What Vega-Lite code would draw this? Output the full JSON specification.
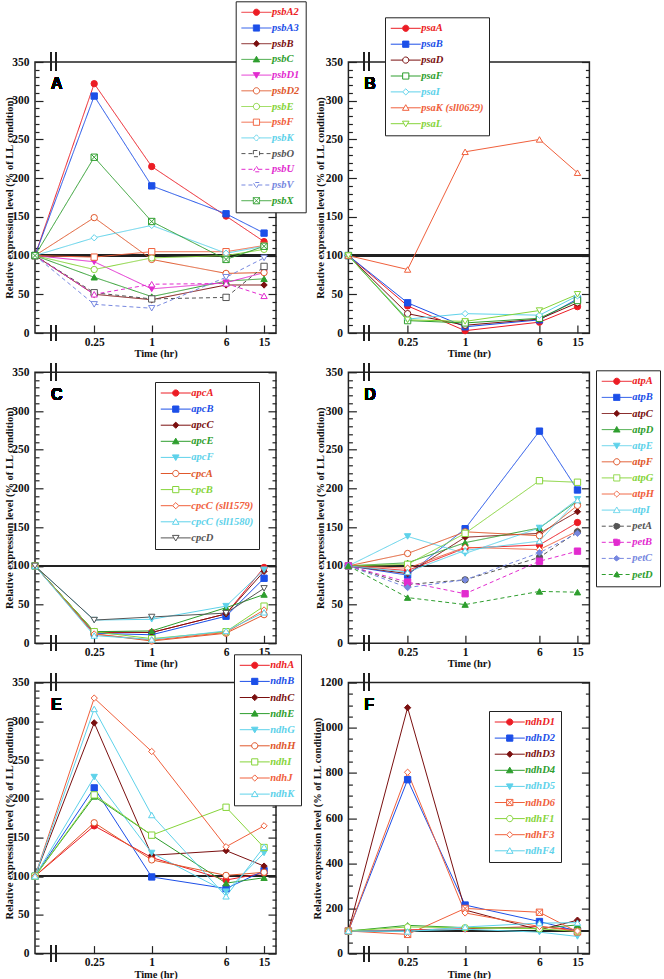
{
"$schema": "https://vega.github.io/schema/vega-lite/v6.json",
"padding": {"left": 3, "top": 0, "right": 0, "bottom": 0},
"params": [
 {"name": "LP", "value": [
  "M-3,0H-0.62M0.62,0H3M-0.62,0A0.62,0.62,0,1,1,0.62,0A0.62,0.62,0,1,1,-0.62,0Z",
  "M-3,0H-0.62M0.62,0H3M-0.62,-0.62H0.62V0.62H-0.62Z",
  "M-3,0H-0.62M0.62,0H3M-0.62,0L0,-0.62L0.62,0L0,0.62Z",
  "M-3,0H-0.37M0.37,0H3M0,-0.62L0.66,0.5H-0.66Z",
  "M-3,0H-0.37M0.37,0H3M0,0.62L0.66,-0.5H-0.66Z",
  "M-3,0H-0.62M0.62,0H3M-0.62,-0.62H0.62V0.62H-0.62ZM-0.62,-0.62L0.62,0.62M0.62,-0.62L-0.62,0.62"]},
 {"name": "Ag", "value": ["psbA2","psbA3","psbB","psbC","psbD1","psbD2","psbE","psbF","psbK","psbO","psbU","psbV","psbX"]},
 {"name": "Ac", "value": ["#ec1c24","#1c4fe8","#7a0f0f","#2e9e2e","#e22bcf","#e0582c","#86d43a","#f0603c","#5ed2ea","#555555","#e22bcf","#7788e0","#2e9e2e"]},
 {"name": "Am", "value": [0,1,2,3,4,0,0,1,2,1,3,4,5]},
 {"name": "Ao", "value": [0,0,0,0,0,1,1,1,1,1,1,1,1]},
 {"name": "Bg", "value": ["psaA","psaB","psaD","psaF","psaI","psaK (sll0629)","psaL"]},
 {"name": "Bc", "value": ["#ec1c24","#1c4fe8","#7a0f0f","#2e9e2e","#5ed2ea","#f0603c","#86d43a"]},
 {"name": "Bm", "value": [0,1,0,1,2,3,4]},
 {"name": "Bo", "value": [0,0,1,1,1,1,1]},
 {"name": "Cg", "value": ["apcA","apcB","apcC","apcE","apcF","cpcA","cpcB","cpcC (sll1579)","cpcC (sll1580)","cpcD"]},
 {"name": "Cc", "value": ["#ec1c24","#1c4fe8","#7a0f0f","#2e9e2e","#5ed2ea","#e0582c","#86d43a","#f0603c","#5ed2ea","#555555"]},
 {"name": "Cm", "value": [0,1,2,3,4,0,1,2,3,4]},
 {"name": "Co", "value": [0,0,0,0,0,1,1,1,1,1]},
 {"name": "Dg", "value": ["atpA","atpB","atpC","atpD","atpE","atpF","atpG","atpH","atpI","petA","petB","petC","petD"]},
 {"name": "Dc", "value": ["#ec1c24","#1c4fe8","#7a0f0f","#2e9e2e","#5ed2ea","#e0582c","#86d43a","#f0603c","#5ed2ea","#555555","#e22bcf","#7788e0","#2e9e2e"]},
 {"name": "Dm", "value": [0,1,2,3,4,0,1,2,3,0,1,2,3]},
 {"name": "Do", "value": [0,0,0,0,0,1,1,1,1,0,0,0,0]},
 {"name": "Eg", "value": ["ndhA","ndhB","ndhC","ndhE","ndhG","ndhH","ndhI","ndhJ","ndhK"]},
 {"name": "Ec", "value": ["#ec1c24","#1c4fe8","#7a0f0f","#2e9e2e","#5ed2ea","#e0582c","#86d43a","#f0603c","#5ed2ea"]},
 {"name": "Em", "value": [0,1,2,3,4,0,1,2,3]},
 {"name": "Eo", "value": [0,0,0,0,0,1,1,1,1]},
 {"name": "Fg", "value": ["ndhD1","ndhD2","ndhD3","ndhD4","ndhD5","ndhD6","ndhF1","ndhF3","ndhF4"]},
 {"name": "Fc", "value": ["#ec1c24","#1c4fe8","#7a0f0f","#2e9e2e","#5ed2ea","#f0603c","#86d43a","#f0603c","#5ed2ea"]},
 {"name": "Fm", "value": [0,1,2,3,4,5,0,2,3]},
 {"name": "Fo", "value": [0,0,0,0,0,1,1,1,1]}
],
"config": {
 "view": {"stroke": "#222", "strokeWidth": 1.5},
 "axis": {"domain": false, "grid": false, "labelFont": "Liberation Serif", "labelFontWeight": "bold", "labelFontSize": 11.5, "labelColor": "#111", "titleFont": "Liberation Serif", "titleFontWeight": "bold", "titleFontSize": 10.5, "titleColor": "#111", "tickColor": "#222", "tickWidth": 1.2},
 "legend": {"padding": 5.5, "strokeColor": "#222", "fillColor": "white", "labelFont": "Liberation Serif", "labelFontSize": 10.5, "labelFontStyle": "italic", "labelFontWeight": "bold", "symbolSize": 100, "symbolStrokeWidth": 1, "symbolOffset": 9.75, "labelOffset": 10, "labelLimit": 300}
},
"bounds": "flush",
"columns": 2,
"spacing": {"row": 39.3, "column": 72.4},
"resolve": {"scale": {"stroke": "independent", "fill": "independent", "shape": "independent", "strokeDash": "independent", "x": "independent", "y": "independent"}},
"concat": [
{
 "width": 241, "height": 271,
 "data": {"values": [
  {"g":"psbA2","t":0.06,"v":100},{"g":"psbA2","t":0.25,"v":322},{"g":"psbA2","t":1,"v":215},{"g":"psbA2","t":6,"v":151},{"g":"psbA2","t":15,"v":118},
  {"g":"psbA3","t":0.06,"v":100},{"g":"psbA3","t":0.25,"v":306},{"g":"psbA3","t":1,"v":190},{"g":"psbA3","t":6,"v":154},{"g":"psbA3","t":15,"v":129},
  {"g":"psbB","t":0.06,"v":100},{"g":"psbB","t":0.25,"v":50},{"g":"psbB","t":1,"v":43},{"g":"psbB","t":6,"v":62},{"g":"psbB","t":15,"v":62},
  {"g":"psbC","t":0.06,"v":100},{"g":"psbC","t":0.25,"v":72},{"g":"psbC","t":1,"v":47},{"g":"psbC","t":6,"v":67},{"g":"psbC","t":15,"v":70},
  {"g":"psbD1","t":0.06,"v":100},{"g":"psbD1","t":0.25,"v":92},{"g":"psbD1","t":1,"v":57},{"g":"psbD1","t":6,"v":65},{"g":"psbD1","t":15,"v":78},
  {"g":"psbD2","t":0.06,"v":100},{"g":"psbD2","t":0.25,"v":149},{"g":"psbD2","t":1,"v":95},{"g":"psbD2","t":6,"v":77},{"g":"psbD2","t":15,"v":78},
  {"g":"psbE","t":0.06,"v":100},{"g":"psbE","t":0.25,"v":82},{"g":"psbE","t":1,"v":97},{"g":"psbE","t":6,"v":100},{"g":"psbE","t":15,"v":108},
  {"g":"psbF","t":0.06,"v":100},{"g":"psbF","t":0.25,"v":98},{"g":"psbF","t":1,"v":105},{"g":"psbF","t":6,"v":105},{"g":"psbF","t":15,"v":113},
  {"g":"psbK","t":0.06,"v":100},{"g":"psbK","t":0.25,"v":123},{"g":"psbK","t":1,"v":139},{"g":"psbK","t":6,"v":103},{"g":"psbK","t":15,"v":112},
  {"g":"psbO","t":0.06,"v":100},{"g":"psbO","t":0.25,"v":52},{"g":"psbO","t":1,"v":44},{"g":"psbO","t":6,"v":46},{"g":"psbO","t":15,"v":86},
  {"g":"psbU","t":0.06,"v":100},{"g":"psbU","t":0.25,"v":50},{"g":"psbU","t":1,"v":63},{"g":"psbU","t":6,"v":64},{"g":"psbU","t":15,"v":48},
  {"g":"psbV","t":0.06,"v":100},{"g":"psbV","t":0.25,"v":37},{"g":"psbV","t":1,"v":32},{"g":"psbV","t":6,"v":72},{"g":"psbV","t":15,"v":97},
  {"g":"psbX","t":0.06,"v":100},{"g":"psbX","t":0.25,"v":227},{"g":"psbX","t":1,"v":144},{"g":"psbX","t":6,"v":95},{"g":"psbX","t":15,"v":112}
 ]},
 "layer": [
  {"mark": {"type": "rule", "stroke": "#222", "strokeWidth": 1.5}, "encoding": {"y": {"datum": 100, "type": "quantitative", "scale": {"domain": [0,350], "nice": false, "zero": false}, "axis": null}}},
  {"mark": {"type": "line", "strokeWidth": 1},
   "encoding": {
    "x": {"field": "t", "type": "quantitative", "scale": {"type": "log", "domain": [0.06, 20], "nice": false}, "axis": {"values": [0.25,1,6,15], "format": "~g", "tickSize": -8, "labelPadding": 11, "title": "Time (hr)", "titlePadding": 1}},
    "y": {"field": "v", "type": "quantitative", "scale": {"domain": [0,350], "nice": false, "zero": false}, "axis": {"values": [0,10,20,30,40,50,60,70,80,90,100,110,120,130,140,150,160,170,180,190,200,210,220,230,240,250,260,270,280,290,300,310,320,330,340,350], "labelExpr": "datum.value % 50 == 0 ? datum.label : ''", "tickSize": {"condition": {"test": "datum.value % 50 == 0", "value": -8}, "value": -4}, "labelPadding": 14, "title": "Relative expression level (% of LL condition)", "titleX": -26, "titleY": 135.5, "titleAlign": "center", "titleBaseline": "middle", "titleAngle": -90}},
    "stroke": {"field": "g", "type": "nominal", "scale": {"domain": ["psbA2","psbA3","psbB","psbC","psbD1","psbD2","psbE","psbF","psbK","psbO","psbU","psbV","psbX"], "range": ["#ec1c24","#1c4fe8","#7a0f0f","#2e9e2e","#e22bcf","#e0582c","#86d43a","#f0603c","#5ed2ea","#555555","#e22bcf","#7788e0","#2e9e2e"]},
     "legend": {"title": null, "orient": "none", "legendX": 200.7, "legendY": -60.7, "rowPadding": 4.7,
      "symbolType": {"expr": "LP[Am[indexof(Ag, datum.value)]]"},
      "symbolFillColor": {"expr": "Ao[indexof(Ag, datum.value)] ? 'white' : Ac[indexof(Ag, datum.value)]"},
      "labelColor": {"expr": "Ac[indexof(Ag, datum.value)]"}}},
    "strokeDash": {"field": "g", "type": "nominal", "scale": {"domain": ["psbA2","psbA3","psbB","psbC","psbD1","psbD2","psbE","psbF","psbK","psbO","psbU","psbV","psbX"], "range": [[1,0],[1,0],[1,0],[1,0],[1,0],[1,0],[1,0],[1,0],[1,0],[4,3],[4,3],[4,3],[1,0]]}, "legend": null}
   }},
  {"mark": {"type": "point", "size": 40, "strokeWidth": 1, "opacity": 1},
   "encoding": {
    "x": {"field": "t", "type": "quantitative", "scale": {"type": "log", "domain": [0.06, 20], "nice": false}},
    "y": {"field": "v", "type": "quantitative", "scale": {"domain": [0,350], "nice": false, "zero": false}, "axis": {"orient": "right", "values": [0,10,20,30,40,50,60,70,80,90,100,110,120,130,140,150,160,170,180,190,200,210,220,230,240,250,260,270,280,290,300,310,320,330,340,350], "labels": false, "tickSize": {"condition": {"test": "datum.value % 50 == 0", "value": -8}, "value": -4}, "title": null}},
    "stroke": {"field": "g", "type": "nominal", "scale": {"domain": ["psbA2","psbA3","psbB","psbC","psbD1","psbD2","psbE","psbF","psbK","psbO","psbU","psbV","psbX"], "range": ["#ec1c24","#1c4fe8","#7a0f0f","#2e9e2e","#e22bcf","#e0582c","#86d43a","#f0603c","#5ed2ea","#555555","#e22bcf","#7788e0","#2e9e2e"]}, "legend": null},
    "fill": {"field": "g", "type": "nominal", "scale": {"domain": ["psbX","psbV","psbU","psbO","psbK","psbF","psbE","psbD2","psbD1","psbC","psbB","psbA3","psbA2"], "range": ["white","white","white","white","white","white","white","white","#e22bcf","#2e9e2e","#7a0f0f","#1c4fe8","#ec1c24"]}, "legend": null},
    "shape": {"field": "g", "type": "nominal", "scale": {"domain": ["psbX","psbV","psbU","psbO","psbK","psbF","psbE","psbD2","psbD1","psbC","psbB","psbA3","psbA2"], "range": ["M-1,-1H1V1H-1ZM-1,-1L1,1M1,-1L-1,1","triangle-down","triangle-up","square","diamond","square","circle","circle","triangle-down","triangle-up","diamond","square","circle"]}, "legend": null}
   }},
  {"mark": {"type": "text", "text": "A", "font": "Liberation Sans", "fontWeight": "bold", "fontSize": 16, "align": "left", "baseline": "middle"}, "encoding": {"x": {"datum": 0.088, "type": "quantitative", "scale": {"type": "log", "domain": [0.06, 20], "nice": false}}, "y": {"datum": 321, "type": "quantitative", "scale": {"domain": [0,350], "nice": false, "zero": false}, "axis": null}}},
  {"mark": {"type": "rule", "stroke": "#222", "strokeWidth": 1.2}, "encoding": {"x": {"datum": 0.0876, "type": "quantitative", "scale": {"type": "log", "domain": [0.06, 20], "nice": false}}, "y": {"datum": -10, "type": "quantitative", "scale": {"domain": [0,350], "nice": false, "zero": false}, "axis": null}, "y2": {"datum": 10}}},
  {"mark": {"type": "rule", "stroke": "#222", "strokeWidth": 1.2}, "encoding": {"x": {"datum": 0.0995, "type": "quantitative", "scale": {"type": "log", "domain": [0.06, 20], "nice": false}}, "y": {"datum": -10, "type": "quantitative", "scale": {"domain": [0,350], "nice": false, "zero": false}, "axis": null}, "y2": {"datum": 10}}},
  {"mark": {"type": "rule", "stroke": "#222", "strokeWidth": 1.2}, "encoding": {"x": {"datum": 0.0876, "type": "quantitative", "scale": {"type": "log", "domain": [0.06, 20], "nice": false}}, "y": {"datum": 339, "type": "quantitative", "scale": {"domain": [0,350], "nice": false, "zero": false}, "axis": null}, "y2": {"datum": 362}}},
  {"mark": {"type": "rule", "stroke": "#222", "strokeWidth": 1.2}, "encoding": {"x": {"datum": 0.0995, "type": "quantitative", "scale": {"type": "log", "domain": [0.06, 20], "nice": false}}, "y": {"datum": 339, "type": "quantitative", "scale": {"domain": [0,350], "nice": false, "zero": false}, "axis": null}, "y2": {"datum": 362}}}
 ],
 "resolve": {"axis": {"y": "independent"}}
},
{
 "width": 241, "height": 271,
 "data": {"values": [
  {"g":"psaA","t":0.06,"v":100},{"g":"psaA","t":0.25,"v":35},{"g":"psaA","t":1,"v":3},{"g":"psaA","t":6,"v":14},{"g":"psaA","t":15,"v":34},
  {"g":"psaB","t":0.06,"v":100},{"g":"psaB","t":0.25,"v":39},{"g":"psaB","t":1,"v":8},{"g":"psaB","t":6,"v":17},{"g":"psaB","t":15,"v":44},
  {"g":"psaD","t":0.06,"v":100},{"g":"psaD","t":0.25,"v":25},{"g":"psaD","t":1,"v":10},{"g":"psaD","t":6,"v":18},{"g":"psaD","t":15,"v":39},
  {"g":"psaF","t":0.06,"v":100},{"g":"psaF","t":0.25,"v":16},{"g":"psaF","t":1,"v":13},{"g":"psaF","t":6,"v":19},{"g":"psaF","t":15,"v":42},
  {"g":"psaI","t":0.06,"v":100},{"g":"psaI","t":0.25,"v":18},{"g":"psaI","t":1,"v":25},{"g":"psaI","t":6,"v":23},{"g":"psaI","t":15,"v":48},
  {"g":"psaK (sll0629)","t":0.06,"v":100},{"g":"psaK (sll0629)","t":0.25,"v":82},{"g":"psaK (sll0629)","t":1,"v":234},{"g":"psaK (sll0629)","t":6,"v":250},{"g":"psaK (sll0629)","t":15,"v":207},
  {"g":"psaL","t":0.06,"v":100},{"g":"psaL","t":0.25,"v":17},{"g":"psaL","t":1,"v":15},{"g":"psaL","t":6,"v":29},{"g":"psaL","t":15,"v":50}
 ]},
 "layer": [
  {"mark": {"type": "rule", "stroke": "#222", "strokeWidth": 1.5}, "encoding": {"y": {"datum": 100, "type": "quantitative", "scale": {"domain": [0,350], "nice": false, "zero": false}, "axis": null}}},
  {"mark": {"type": "line", "strokeWidth": 1},
   "encoding": {
    "x": {"field": "t", "type": "quantitative", "scale": {"type": "log", "domain": [0.06, 20], "nice": false}, "axis": {"values": [0.25,1,6,15], "format": "~g", "tickSize": -8, "labelPadding": 11, "title": "Time (hr)", "titlePadding": 1}},
    "y": {"field": "v", "type": "quantitative", "scale": {"domain": [0,350], "nice": false, "zero": false}, "axis": {"values": [0,10,20,30,40,50,60,70,80,90,100,110,120,130,140,150,160,170,180,190,200,210,220,230,240,250,260,270,280,290,300,310,320,330,340,350], "labelExpr": "datum.value % 50 == 0 ? datum.label : ''", "tickSize": {"condition": {"test": "datum.value % 50 == 0", "value": -8}, "value": -4}, "labelPadding": 14, "title": "Relative expression level (% of LL condition)", "titleX": -28, "titleY": 135.5, "titleAlign": "center", "titleBaseline": "middle", "titleAngle": -90}},
    "stroke": {"field": "g", "type": "nominal", "scale": {"domain": ["psaA","psaB","psaD","psaF","psaI","psaK (sll0629)","psaL"], "range": ["#ec1c24","#1c4fe8","#7a0f0f","#2e9e2e","#5ed2ea","#f0603c","#86d43a"]},
     "legend": {"title": null, "orient": "none", "legendX": 36.6, "legendY": -44.7, "rowPadding": 4.9,
      "symbolType": {"expr": "LP[Bm[indexof(Bg, datum.value)]]"},
      "symbolFillColor": {"expr": "Bo[indexof(Bg, datum.value)] ? 'white' : Bc[indexof(Bg, datum.value)]"},
      "labelColor": {"expr": "Bc[indexof(Bg, datum.value)]"}}}
   }},
  {"mark": {"type": "point", "size": 40, "strokeWidth": 1, "opacity": 1},
   "encoding": {
    "x": {"field": "t", "type": "quantitative", "scale": {"type": "log", "domain": [0.06, 20], "nice": false}},
    "y": {"field": "v", "type": "quantitative", "scale": {"domain": [0,350], "nice": false, "zero": false}, "axis": {"orient": "right", "values": [0,10,20,30,40,50,60,70,80,90,100,110,120,130,140,150,160,170,180,190,200,210,220,230,240,250,260,270,280,290,300,310,320,330,340,350], "labels": false, "tickSize": {"condition": {"test": "datum.value % 50 == 0", "value": -8}, "value": -4}, "title": null}},
    "stroke": {"field": "g", "type": "nominal", "scale": {"domain": ["psaA","psaB","psaD","psaF","psaI","psaK (sll0629)","psaL"], "range": ["#ec1c24","#1c4fe8","#7a0f0f","#2e9e2e","#5ed2ea","#f0603c","#86d43a"]}, "legend": null},
    "fill": {"field": "g", "type": "nominal", "scale": {"domain": ["psaL","psaK (sll0629)","psaI","psaF","psaD","psaB","psaA"], "range": ["white","white","white","white","white","#1c4fe8","#ec1c24"]}, "legend": null},
    "shape": {"field": "g", "type": "nominal", "scale": {"domain": ["psaL","psaK (sll0629)","psaI","psaF","psaD","psaB","psaA"], "range": ["triangle-down","triangle-up","diamond","square","circle","square","circle"]}, "legend": null}
   }},
  {"mark": {"type": "text", "text": "B", "font": "Liberation Sans", "fontWeight": "bold", "fontSize": 16, "align": "left", "baseline": "middle"}, "encoding": {"x": {"datum": 0.088, "type": "quantitative", "scale": {"type": "log", "domain": [0.06, 20], "nice": false}}, "y": {"datum": 321, "type": "quantitative", "scale": {"domain": [0,350], "nice": false, "zero": false}, "axis": null}}},
  {"mark": {"type": "rule", "stroke": "#222", "strokeWidth": 1.2}, "encoding": {"x": {"datum": 0.0876, "type": "quantitative", "scale": {"type": "log", "domain": [0.06, 20], "nice": false}}, "y": {"datum": -10, "type": "quantitative", "scale": {"domain": [0,350], "nice": false, "zero": false}, "axis": null}, "y2": {"datum": 10}}},
  {"mark": {"type": "rule", "stroke": "#222", "strokeWidth": 1.2}, "encoding": {"x": {"datum": 0.0995, "type": "quantitative", "scale": {"type": "log", "domain": [0.06, 20], "nice": false}}, "y": {"datum": -10, "type": "quantitative", "scale": {"domain": [0,350], "nice": false, "zero": false}, "axis": null}, "y2": {"datum": 10}}},
  {"mark": {"type": "rule", "stroke": "#222", "strokeWidth": 1.2}, "encoding": {"x": {"datum": 0.0876, "type": "quantitative", "scale": {"type": "log", "domain": [0.06, 20], "nice": false}}, "y": {"datum": 339, "type": "quantitative", "scale": {"domain": [0,350], "nice": false, "zero": false}, "axis": null}, "y2": {"datum": 362}}},
  {"mark": {"type": "rule", "stroke": "#222", "strokeWidth": 1.2}, "encoding": {"x": {"datum": 0.0995, "type": "quantitative", "scale": {"type": "log", "domain": [0.06, 20], "nice": false}}, "y": {"datum": 339, "type": "quantitative", "scale": {"domain": [0,350], "nice": false, "zero": false}, "axis": null}, "y2": {"datum": 362}}}
 ],
 "resolve": {"axis": {"y": "independent"}}
},
{
 "width": 241, "height": 271,
 "data": {"values": [
  {"g":"apcA","t":0.06,"v":100},{"g":"apcA","t":0.25,"v":14},{"g":"apcA","t":1,"v":14},{"g":"apcA","t":6,"v":38},{"g":"apcA","t":15,"v":98},
  {"g":"apcB","t":0.06,"v":100},{"g":"apcB","t":0.25,"v":13},{"g":"apcB","t":1,"v":11},{"g":"apcB","t":6,"v":35},{"g":"apcB","t":15,"v":84},
  {"g":"apcC","t":0.06,"v":100},{"g":"apcC","t":0.25,"v":15},{"g":"apcC","t":1,"v":14},{"g":"apcC","t":6,"v":38},{"g":"apcC","t":15,"v":93},
  {"g":"apcE","t":0.06,"v":100},{"g":"apcE","t":0.25,"v":15},{"g":"apcE","t":1,"v":16},{"g":"apcE","t":6,"v":46},{"g":"apcE","t":15,"v":63},
  {"g":"apcF","t":0.06,"v":100},{"g":"apcF","t":0.25,"v":30},{"g":"apcF","t":1,"v":31},{"g":"apcF","t":6,"v":48},{"g":"apcF","t":15,"v":95},
  {"g":"cpcA","t":0.06,"v":100},{"g":"cpcA","t":0.25,"v":12},{"g":"cpcA","t":1,"v":3},{"g":"cpcA","t":6,"v":13},{"g":"cpcA","t":15,"v":37},
  {"g":"cpcB","t":0.06,"v":100},{"g":"cpcB","t":0.25,"v":15},{"g":"cpcB","t":1,"v":6},{"g":"cpcB","t":6,"v":15},{"g":"cpcB","t":15,"v":48},
  {"g":"cpcC (sll1579)","t":0.06,"v":100},{"g":"cpcC (sll1579)","t":0.25,"v":12},{"g":"cpcC (sll1579)","t":1,"v":4},{"g":"cpcC (sll1579)","t":6,"v":14},{"g":"cpcC (sll1579)","t":15,"v":43},
  {"g":"cpcC (sll1580)","t":0.06,"v":100},{"g":"cpcC (sll1580)","t":0.25,"v":10},{"g":"cpcC (sll1580)","t":1,"v":5},{"g":"cpcC (sll1580)","t":6,"v":16},{"g":"cpcC (sll1580)","t":15,"v":40},
  {"g":"cpcD","t":0.06,"v":100},{"g":"cpcD","t":0.25,"v":30},{"g":"cpcD","t":1,"v":34},{"g":"cpcD","t":6,"v":39},{"g":"cpcD","t":15,"v":71}
 ]},
 "layer": [
  {"mark": {"type": "rule", "stroke": "#222", "strokeWidth": 1.5}, "encoding": {"y": {"datum": 100, "type": "quantitative", "scale": {"domain": [0,350], "nice": false, "zero": false}, "axis": null}}},
  {"mark": {"type": "line", "strokeWidth": 1},
   "encoding": {
    "x": {"field": "t", "type": "quantitative", "scale": {"type": "log", "domain": [0.06, 20], "nice": false}, "axis": {"values": [0.25,1,6,15], "format": "~g", "tickSize": -8, "labelPadding": 11, "title": "Time (hr)", "titlePadding": 1}},
    "y": {"field": "v", "type": "quantitative", "scale": {"domain": [0,350], "nice": false, "zero": false}, "axis": {"values": [0,10,20,30,40,50,60,70,80,90,100,110,120,130,140,150,160,170,180,190,200,210,220,230,240,250,260,270,280,290,300,310,320,330,340,350], "labelExpr": "datum.value % 50 == 0 ? datum.label : ''", "tickSize": {"condition": {"test": "datum.value % 50 == 0", "value": -8}, "value": -4}, "labelPadding": 14, "title": "Relative expression level (% of LL condition)", "titleX": -26, "titleY": 135.5, "titleAlign": "center", "titleBaseline": "middle", "titleAngle": -90}},
    "stroke": {"field": "g", "type": "nominal", "scale": {"domain": ["apcA","apcB","apcC","apcE","apcF","cpcA","cpcB","cpcC (sll1579)","cpcC (sll1580)","cpcD"], "range": ["#ec1c24","#1c4fe8","#7a0f0f","#2e9e2e","#5ed2ea","#e0582c","#86d43a","#f0603c","#5ed2ea","#555555"]},
     "legend": {"title": null, "orient": "none", "legendX": 120, "legendY": 9.7, "rowPadding": 5.1,
      "symbolType": {"expr": "LP[Cm[indexof(Cg, datum.value)]]"},
      "symbolFillColor": {"expr": "Co[indexof(Cg, datum.value)] ? 'white' : Cc[indexof(Cg, datum.value)]"},
      "labelColor": {"expr": "Cc[indexof(Cg, datum.value)]"}}}
   }},
  {"mark": {"type": "point", "size": 40, "strokeWidth": 1, "opacity": 1},
   "encoding": {
    "x": {"field": "t", "type": "quantitative", "scale": {"type": "log", "domain": [0.06, 20], "nice": false}},
    "y": {"field": "v", "type": "quantitative", "scale": {"domain": [0,350], "nice": false, "zero": false}, "axis": {"orient": "right", "values": [0,10,20,30,40,50,60,70,80,90,100,110,120,130,140,150,160,170,180,190,200,210,220,230,240,250,260,270,280,290,300,310,320,330,340,350], "labels": false, "tickSize": {"condition": {"test": "datum.value % 50 == 0", "value": -8}, "value": -4}, "title": null}},
    "stroke": {"field": "g", "type": "nominal", "scale": {"domain": ["apcA","apcB","apcC","apcE","apcF","cpcA","cpcB","cpcC (sll1579)","cpcC (sll1580)","cpcD"], "range": ["#ec1c24","#1c4fe8","#7a0f0f","#2e9e2e","#5ed2ea","#e0582c","#86d43a","#f0603c","#5ed2ea","#555555"]}, "legend": null},
    "fill": {"field": "g", "type": "nominal", "scale": {"domain": ["cpcD","cpcC (sll1580)","cpcC (sll1579)","cpcB","cpcA","apcF","apcE","apcC","apcB","apcA"], "range": ["white","white","white","white","white","#5ed2ea","#2e9e2e","#7a0f0f","#1c4fe8","#ec1c24"]}, "legend": null},
    "shape": {"field": "g", "type": "nominal", "scale": {"domain": ["cpcD","cpcC (sll1580)","cpcC (sll1579)","cpcB","cpcA","apcF","apcE","apcC","apcB","apcA"], "range": ["triangle-down","triangle-up","diamond","square","circle","triangle-down","triangle-up","diamond","square","circle"]}, "legend": null}
   }},
  {"mark": {"type": "text", "text": "C", "font": "Liberation Sans", "fontWeight": "bold", "fontSize": 16, "align": "left", "baseline": "middle"}, "encoding": {"x": {"datum": 0.088, "type": "quantitative", "scale": {"type": "log", "domain": [0.06, 20], "nice": false}}, "y": {"datum": 321, "type": "quantitative", "scale": {"domain": [0,350], "nice": false, "zero": false}, "axis": null}}},
  {"mark": {"type": "rule", "stroke": "#222", "strokeWidth": 1.2}, "encoding": {"x": {"datum": 0.0876, "type": "quantitative", "scale": {"type": "log", "domain": [0.06, 20], "nice": false}}, "y": {"datum": -10, "type": "quantitative", "scale": {"domain": [0,350], "nice": false, "zero": false}, "axis": null}, "y2": {"datum": 10}}},
  {"mark": {"type": "rule", "stroke": "#222", "strokeWidth": 1.2}, "encoding": {"x": {"datum": 0.0995, "type": "quantitative", "scale": {"type": "log", "domain": [0.06, 20], "nice": false}}, "y": {"datum": -10, "type": "quantitative", "scale": {"domain": [0,350], "nice": false, "zero": false}, "axis": null}, "y2": {"datum": 10}}},
  {"mark": {"type": "rule", "stroke": "#222", "strokeWidth": 1.2}, "encoding": {"x": {"datum": 0.0876, "type": "quantitative", "scale": {"type": "log", "domain": [0.06, 20], "nice": false}}, "y": {"datum": 339, "type": "quantitative", "scale": {"domain": [0,350], "nice": false, "zero": false}, "axis": null}, "y2": {"datum": 362}}},
  {"mark": {"type": "rule", "stroke": "#222", "strokeWidth": 1.2}, "encoding": {"x": {"datum": 0.0995, "type": "quantitative", "scale": {"type": "log", "domain": [0.06, 20], "nice": false}}, "y": {"datum": 339, "type": "quantitative", "scale": {"domain": [0,350], "nice": false, "zero": false}, "axis": null}, "y2": {"datum": 362}}}
 ],
 "resolve": {"axis": {"y": "independent"}}
},
{
 "width": 241, "height": 271,
 "data": {"values": [
  {"g":"atpA","t":0.06,"v":100},{"g":"atpA","t":0.25,"v":94},{"g":"atpA","t":1,"v":123},{"g":"atpA","t":6,"v":127},{"g":"atpA","t":15,"v":156},
  {"g":"atpB","t":0.06,"v":100},{"g":"atpB","t":0.25,"v":88},{"g":"atpB","t":1,"v":148},{"g":"atpB","t":6,"v":274},{"g":"atpB","t":15,"v":198},
  {"g":"atpC","t":0.06,"v":100},{"g":"atpC","t":0.25,"v":90},{"g":"atpC","t":1,"v":137},{"g":"atpC","t":6,"v":142},{"g":"atpC","t":15,"v":170},
  {"g":"atpD","t":0.06,"v":100},{"g":"atpD","t":0.25,"v":104},{"g":"atpD","t":1,"v":130},{"g":"atpD","t":6,"v":149},{"g":"atpD","t":15,"v":184},
  {"g":"atpE","t":0.06,"v":100},{"g":"atpE","t":0.25,"v":138},{"g":"atpE","t":1,"v":116},{"g":"atpE","t":6,"v":149},{"g":"atpE","t":15,"v":186},
  {"g":"atpF","t":0.06,"v":100},{"g":"atpF","t":0.25,"v":116},{"g":"atpF","t":1,"v":144},{"g":"atpF","t":6,"v":139},{"g":"atpF","t":15,"v":178},
  {"g":"atpG","t":0.06,"v":100},{"g":"atpG","t":0.25,"v":102},{"g":"atpG","t":1,"v":142},{"g":"atpG","t":6,"v":210},{"g":"atpG","t":15,"v":208},
  {"g":"atpH","t":0.06,"v":100},{"g":"atpH","t":0.25,"v":97},{"g":"atpH","t":1,"v":124},{"g":"atpH","t":6,"v":121},{"g":"atpH","t":15,"v":145},
  {"g":"atpI","t":0.06,"v":100},{"g":"atpI","t":0.25,"v":92},{"g":"atpI","t":1,"v":120},{"g":"atpI","t":6,"v":132},{"g":"atpI","t":15,"v":185},
  {"g":"petA","t":0.06,"v":100},{"g":"petA","t":0.25,"v":76},{"g":"petA","t":1,"v":82},{"g":"petA","t":6,"v":111},{"g":"petA","t":15,"v":144},
  {"g":"petB","t":0.06,"v":100},{"g":"petB","t":0.25,"v":79},{"g":"petB","t":1,"v":64},{"g":"petB","t":6,"v":106},{"g":"petB","t":15,"v":119},
  {"g":"petC","t":0.06,"v":100},{"g":"petC","t":0.25,"v":72},{"g":"petC","t":1,"v":82},{"g":"petC","t":6,"v":117},{"g":"petC","t":15,"v":142},
  {"g":"petD","t":0.06,"v":100},{"g":"petD","t":0.25,"v":59},{"g":"petD","t":1,"v":50},{"g":"petD","t":6,"v":67},{"g":"petD","t":15,"v":66}
 ]},
 "layer": [
  {"mark": {"type": "rule", "stroke": "#222", "strokeWidth": 1.5}, "encoding": {"y": {"datum": 100, "type": "quantitative", "scale": {"domain": [0,350], "nice": false, "zero": false}, "axis": null}}},
  {"mark": {"type": "line", "strokeWidth": 1},
   "encoding": {
    "x": {"field": "t", "type": "quantitative", "scale": {"type": "log", "domain": [0.06, 20], "nice": false}, "axis": {"values": [0.25,1,6,15], "format": "~g", "tickSize": -8, "labelPadding": 11, "title": "Time (hr)", "titlePadding": 1}},
    "y": {"field": "v", "type": "quantitative", "scale": {"domain": [0,350], "nice": false, "zero": false}, "axis": {"values": [0,10,20,30,40,50,60,70,80,90,100,110,120,130,140,150,160,170,180,190,200,210,220,230,240,250,260,270,280,290,300,310,320,330,340,350], "labelExpr": "datum.value % 50 == 0 ? datum.label : ''", "tickSize": {"condition": {"test": "datum.value % 50 == 0", "value": -8}, "value": -4}, "labelPadding": 14, "title": "Relative expression level (% of LL condition)", "titleX": -28, "titleY": 135.5, "titleAlign": "center", "titleBaseline": "middle", "titleAngle": -90}},
    "stroke": {"field": "g", "type": "nominal", "scale": {"domain": ["atpA","atpB","atpC","atpD","atpE","atpF","atpG","atpH","atpI","petA","petB","petC","petD"], "range": ["#ec1c24","#1c4fe8","#7a0f0f","#2e9e2e","#5ed2ea","#e0582c","#86d43a","#f0603c","#5ed2ea","#555555","#e22bcf","#7788e0","#2e9e2e"]},
     "legend": {"title": null, "orient": "none", "legendX": 247.6, "legendY": -2, "rowPadding": 5.1,
      "symbolType": {"expr": "LP[Dm[indexof(Dg, datum.value)]]"},
      "symbolFillColor": {"expr": "Do[indexof(Dg, datum.value)] ? 'white' : Dc[indexof(Dg, datum.value)]"},
      "labelColor": {"expr": "Dc[indexof(Dg, datum.value)]"}}},
    "strokeDash": {"field": "g", "type": "nominal", "scale": {"domain": ["atpA","atpB","atpC","atpD","atpE","atpF","atpG","atpH","atpI","petA","petB","petC","petD"], "range": [[1,0],[1,0],[1,0],[1,0],[1,0],[1,0],[1,0],[1,0],[1,0],[4,3],[4,3],[4,3],[4,3]]}, "legend": null}
   }},
  {"mark": {"type": "point", "size": 40, "strokeWidth": 1, "opacity": 1},
   "encoding": {
    "x": {"field": "t", "type": "quantitative", "scale": {"type": "log", "domain": [0.06, 20], "nice": false}},
    "y": {"field": "v", "type": "quantitative", "scale": {"domain": [0,350], "nice": false, "zero": false}, "axis": {"orient": "right", "values": [0,10,20,30,40,50,60,70,80,90,100,110,120,130,140,150,160,170,180,190,200,210,220,230,240,250,260,270,280,290,300,310,320,330,340,350], "labels": false, "tickSize": {"condition": {"test": "datum.value % 50 == 0", "value": -8}, "value": -4}, "title": null}},
    "stroke": {"field": "g", "type": "nominal", "scale": {"domain": ["atpA","atpB","atpC","atpD","atpE","atpF","atpG","atpH","atpI","petA","petB","petC","petD"], "range": ["#ec1c24","#1c4fe8","#7a0f0f","#2e9e2e","#5ed2ea","#e0582c","#86d43a","#f0603c","#5ed2ea","#555555","#e22bcf","#7788e0","#2e9e2e"]}, "legend": null},
    "fill": {"field": "g", "type": "nominal", "scale": {"domain": ["petD","petC","petB","petA","atpI","atpH","atpG","atpF","atpE","atpD","atpC","atpB","atpA"], "range": ["#2e9e2e","#7788e0","#e22bcf","#555555","white","white","white","white","#5ed2ea","#2e9e2e","#7a0f0f","#1c4fe8","#ec1c24"]}, "legend": null},
    "shape": {"field": "g", "type": "nominal", "scale": {"domain": ["petD","petC","petB","petA","atpI","atpH","atpG","atpF","atpE","atpD","atpC","atpB","atpA"], "range": ["triangle-up","diamond","square","circle","triangle-up","diamond","square","circle","triangle-down","triangle-up","diamond","square","circle"]}, "legend": null}
   }},
  {"mark": {"type": "text", "text": "D", "font": "Liberation Sans", "fontWeight": "bold", "fontSize": 16, "align": "left", "baseline": "middle"}, "encoding": {"x": {"datum": 0.088, "type": "quantitative", "scale": {"type": "log", "domain": [0.06, 20], "nice": false}}, "y": {"datum": 321, "type": "quantitative", "scale": {"domain": [0,350], "nice": false, "zero": false}, "axis": null}}},
  {"mark": {"type": "rule", "stroke": "#222", "strokeWidth": 1.2}, "encoding": {"x": {"datum": 0.0876, "type": "quantitative", "scale": {"type": "log", "domain": [0.06, 20], "nice": false}}, "y": {"datum": -10, "type": "quantitative", "scale": {"domain": [0,350], "nice": false, "zero": false}, "axis": null}, "y2": {"datum": 10}}},
  {"mark": {"type": "rule", "stroke": "#222", "strokeWidth": 1.2}, "encoding": {"x": {"datum": 0.0995, "type": "quantitative", "scale": {"type": "log", "domain": [0.06, 20], "nice": false}}, "y": {"datum": -10, "type": "quantitative", "scale": {"domain": [0,350], "nice": false, "zero": false}, "axis": null}, "y2": {"datum": 10}}},
  {"mark": {"type": "rule", "stroke": "#222", "strokeWidth": 1.2}, "encoding": {"x": {"datum": 0.0876, "type": "quantitative", "scale": {"type": "log", "domain": [0.06, 20], "nice": false}}, "y": {"datum": 339, "type": "quantitative", "scale": {"domain": [0,350], "nice": false, "zero": false}, "axis": null}, "y2": {"datum": 362}}},
  {"mark": {"type": "rule", "stroke": "#222", "strokeWidth": 1.2}, "encoding": {"x": {"datum": 0.0995, "type": "quantitative", "scale": {"type": "log", "domain": [0.06, 20], "nice": false}}, "y": {"datum": 339, "type": "quantitative", "scale": {"domain": [0,350], "nice": false, "zero": false}, "axis": null}, "y2": {"datum": 362}}}
 ],
 "resolve": {"axis": {"y": "independent"}}
},
{
 "width": 241, "height": 271,
 "data": {"values": [
  {"g":"ndhA","t":0.06,"v":100},{"g":"ndhA","t":0.25,"v":165},{"g":"ndhA","t":1,"v":124},{"g":"ndhA","t":6,"v":95},{"g":"ndhA","t":15,"v":104},
  {"g":"ndhB","t":0.06,"v":100},{"g":"ndhB","t":0.25,"v":214},{"g":"ndhB","t":1,"v":99},{"g":"ndhB","t":6,"v":84},{"g":"ndhB","t":15,"v":107},
  {"g":"ndhC","t":0.06,"v":100},{"g":"ndhC","t":0.25,"v":298},{"g":"ndhC","t":1,"v":127},{"g":"ndhC","t":6,"v":133},{"g":"ndhC","t":15,"v":113},
  {"g":"ndhE","t":0.06,"v":100},{"g":"ndhE","t":0.25,"v":203},{"g":"ndhE","t":1,"v":153},{"g":"ndhE","t":6,"v":91},{"g":"ndhE","t":15,"v":98},
  {"g":"ndhG","t":0.06,"v":100},{"g":"ndhG","t":0.25,"v":228},{"g":"ndhG","t":1,"v":130},{"g":"ndhG","t":6,"v":80},{"g":"ndhG","t":15,"v":130},
  {"g":"ndhH","t":0.06,"v":100},{"g":"ndhH","t":0.25,"v":169},{"g":"ndhH","t":1,"v":121},{"g":"ndhH","t":6,"v":101},{"g":"ndhH","t":15,"v":105},
  {"g":"ndhI","t":0.06,"v":100},{"g":"ndhI","t":0.25,"v":205},{"g":"ndhI","t":1,"v":153},{"g":"ndhI","t":6,"v":189},{"g":"ndhI","t":15,"v":137},
  {"g":"ndhJ","t":0.06,"v":100},{"g":"ndhJ","t":0.25,"v":330},{"g":"ndhJ","t":1,"v":261},{"g":"ndhJ","t":6,"v":138},{"g":"ndhJ","t":15,"v":165},
  {"g":"ndhK","t":0.06,"v":100},{"g":"ndhK","t":0.25,"v":316},{"g":"ndhK","t":1,"v":179},{"g":"ndhK","t":6,"v":74},{"g":"ndhK","t":15,"v":138}
 ]},
 "layer": [
  {"mark": {"type": "rule", "stroke": "#222", "strokeWidth": 1.5}, "encoding": {"y": {"datum": 100, "type": "quantitative", "scale": {"domain": [0,350], "nice": false, "zero": false}, "axis": null}}},
  {"mark": {"type": "line", "strokeWidth": 1},
   "encoding": {
    "x": {"field": "t", "type": "quantitative", "scale": {"type": "log", "domain": [0.06, 20], "nice": false}, "axis": {"values": [0.25,1,6,15], "format": "~g", "tickSize": -8, "labelPadding": 11, "title": "Time (hr)", "titlePadding": 1}},
    "y": {"field": "v", "type": "quantitative", "scale": {"domain": [0,350], "nice": false, "zero": false}, "axis": {"values": [0,10,20,30,40,50,60,70,80,90,100,110,120,130,140,150,160,170,180,190,200,210,220,230,240,250,260,270,280,290,300,310,320,330,340,350], "labelExpr": "datum.value % 50 == 0 ? datum.label : ''", "tickSize": {"condition": {"test": "datum.value % 50 == 0", "value": -8}, "value": -4}, "labelPadding": 14, "title": "Relative expression level (% of LL condition)", "titleX": -26, "titleY": 135.5, "titleAlign": "center", "titleBaseline": "middle", "titleAngle": -90}},
    "stroke": {"field": "g", "type": "nominal", "scale": {"domain": ["ndhA","ndhB","ndhC","ndhE","ndhG","ndhH","ndhI","ndhJ","ndhK"], "range": ["#ec1c24","#1c4fe8","#7a0f0f","#2e9e2e","#5ed2ea","#e0582c","#86d43a","#f0603c","#5ed2ea"]},
     "legend": {"title": null, "orient": "none", "legendX": 199, "legendY": -28.3, "rowPadding": 5.1,
      "symbolType": {"expr": "LP[Em[indexof(Eg, datum.value)]]"},
      "symbolFillColor": {"expr": "Eo[indexof(Eg, datum.value)] ? 'white' : Ec[indexof(Eg, datum.value)]"},
      "labelColor": {"expr": "Ec[indexof(Eg, datum.value)]"}}}
   }},
  {"mark": {"type": "point", "size": 40, "strokeWidth": 1, "opacity": 1},
   "encoding": {
    "x": {"field": "t", "type": "quantitative", "scale": {"type": "log", "domain": [0.06, 20], "nice": false}},
    "y": {"field": "v", "type": "quantitative", "scale": {"domain": [0,350], "nice": false, "zero": false}, "axis": {"orient": "right", "values": [0,10,20,30,40,50,60,70,80,90,100,110,120,130,140,150,160,170,180,190,200,210,220,230,240,250,260,270,280,290,300,310,320,330,340,350], "labels": false, "tickSize": {"condition": {"test": "datum.value % 50 == 0", "value": -8}, "value": -4}, "title": null}},
    "stroke": {"field": "g", "type": "nominal", "scale": {"domain": ["ndhA","ndhB","ndhC","ndhE","ndhG","ndhH","ndhI","ndhJ","ndhK"], "range": ["#ec1c24","#1c4fe8","#7a0f0f","#2e9e2e","#5ed2ea","#e0582c","#86d43a","#f0603c","#5ed2ea"]}, "legend": null},
    "fill": {"field": "g", "type": "nominal", "scale": {"domain": ["ndhK","ndhJ","ndhI","ndhH","ndhG","ndhE","ndhC","ndhB","ndhA"], "range": ["white","white","white","white","#5ed2ea","#2e9e2e","#7a0f0f","#1c4fe8","#ec1c24"]}, "legend": null},
    "shape": {"field": "g", "type": "nominal", "scale": {"domain": ["ndhK","ndhJ","ndhI","ndhH","ndhG","ndhE","ndhC","ndhB","ndhA"], "range": ["triangle-up","diamond","square","circle","triangle-down","triangle-up","diamond","square","circle"]}, "legend": null}
   }},
  {"mark": {"type": "text", "text": "E", "font": "Liberation Sans", "fontWeight": "bold", "fontSize": 16, "align": "left", "baseline": "middle"}, "encoding": {"x": {"datum": 0.088, "type": "quantitative", "scale": {"type": "log", "domain": [0.06, 20], "nice": false}}, "y": {"datum": 321, "type": "quantitative", "scale": {"domain": [0,350], "nice": false, "zero": false}, "axis": null}}},
  {"mark": {"type": "rule", "stroke": "#222", "strokeWidth": 1.2}, "encoding": {"x": {"datum": 0.0876, "type": "quantitative", "scale": {"type": "log", "domain": [0.06, 20], "nice": false}}, "y": {"datum": -10, "type": "quantitative", "scale": {"domain": [0,350], "nice": false, "zero": false}, "axis": null}, "y2": {"datum": 10}}},
  {"mark": {"type": "rule", "stroke": "#222", "strokeWidth": 1.2}, "encoding": {"x": {"datum": 0.0995, "type": "quantitative", "scale": {"type": "log", "domain": [0.06, 20], "nice": false}}, "y": {"datum": -10, "type": "quantitative", "scale": {"domain": [0,350], "nice": false, "zero": false}, "axis": null}, "y2": {"datum": 10}}},
  {"mark": {"type": "rule", "stroke": "#222", "strokeWidth": 1.2}, "encoding": {"x": {"datum": 0.0876, "type": "quantitative", "scale": {"type": "log", "domain": [0.06, 20], "nice": false}}, "y": {"datum": 339, "type": "quantitative", "scale": {"domain": [0,350], "nice": false, "zero": false}, "axis": null}, "y2": {"datum": 362}}},
  {"mark": {"type": "rule", "stroke": "#222", "strokeWidth": 1.2}, "encoding": {"x": {"datum": 0.0995, "type": "quantitative", "scale": {"type": "log", "domain": [0.06, 20], "nice": false}}, "y": {"datum": 339, "type": "quantitative", "scale": {"domain": [0,350], "nice": false, "zero": false}, "axis": null}, "y2": {"datum": 362}}}
 ],
 "resolve": {"axis": {"y": "independent"}}
},
{
 "width": 241, "height": 271,
 "data": {"values": [
  {"g":"ndhD1","t":0.06,"v":100},{"g":"ndhD1","t":0.25,"v":105},{"g":"ndhD1","t":1,"v":110},{"g":"ndhD1","t":6,"v":120},{"g":"ndhD1","t":15,"v":105},
  {"g":"ndhD2","t":0.06,"v":100},{"g":"ndhD2","t":0.25,"v":770},{"g":"ndhD2","t":1,"v":215},{"g":"ndhD2","t":6,"v":142},{"g":"ndhD2","t":15,"v":100},
  {"g":"ndhD3","t":0.06,"v":100},{"g":"ndhD3","t":0.25,"v":1089},{"g":"ndhD3","t":1,"v":193},{"g":"ndhD3","t":6,"v":105},{"g":"ndhD3","t":15,"v":148},
  {"g":"ndhD4","t":0.06,"v":100},{"g":"ndhD4","t":0.25,"v":125},{"g":"ndhD4","t":1,"v":115},{"g":"ndhD4","t":6,"v":112},{"g":"ndhD4","t":15,"v":127},
  {"g":"ndhD5","t":0.06,"v":100},{"g":"ndhD5","t":0.25,"v":100},{"g":"ndhD5","t":1,"v":108},{"g":"ndhD5","t":6,"v":95},{"g":"ndhD5","t":15,"v":76},
  {"g":"ndhD6","t":0.06,"v":100},{"g":"ndhD6","t":0.25,"v":85},{"g":"ndhD6","t":1,"v":200},{"g":"ndhD6","t":6,"v":183},{"g":"ndhD6","t":15,"v":96},
  {"g":"ndhF1","t":0.06,"v":100},{"g":"ndhF1","t":0.25,"v":118},{"g":"ndhF1","t":1,"v":115},{"g":"ndhF1","t":6,"v":110},{"g":"ndhF1","t":15,"v":98},
  {"g":"ndhF3","t":0.06,"v":100},{"g":"ndhF3","t":0.25,"v":803},{"g":"ndhF3","t":1,"v":180},{"g":"ndhF3","t":6,"v":120},{"g":"ndhF3","t":15,"v":100},
  {"g":"ndhF4","t":0.06,"v":100},{"g":"ndhF4","t":0.25,"v":98},{"g":"ndhF4","t":1,"v":118},{"g":"ndhF4","t":6,"v":135},{"g":"ndhF4","t":15,"v":137}
 ]},
 "layer": [
  {"mark": {"type": "rule", "stroke": "#222", "strokeWidth": 1.5}, "encoding": {"y": {"datum": 100, "type": "quantitative", "scale": {"domain": [0,1200], "nice": false, "zero": false}, "axis": null}}},
  {"mark": {"type": "line", "strokeWidth": 1},
   "encoding": {
    "x": {"field": "t", "type": "quantitative", "scale": {"type": "log", "domain": [0.06, 20], "nice": false}, "axis": {"values": [0.25,1,6,15], "format": "~g", "tickSize": -8, "labelPadding": 11, "title": "Time (hr)", "titlePadding": 1}},
    "y": {"field": "v", "type": "quantitative", "scale": {"domain": [0,1200], "nice": false, "zero": false}, "axis": {"values": [0,50,100,150,200,250,300,350,400,450,500,550,600,650,700,750,800,850,900,950,1000,1050,1100,1150,1200], "labelExpr": "datum.value % 200 == 0 ? datum.label : ''", "format": "d", "tickSize": {"condition": {"test": "datum.value % 200 == 0", "value": -8}, "value": -4}, "labelPadding": 14, "title": "Relative expression level (% of LL condition)", "titleX": -31, "titleY": 135.5, "titleAlign": "center", "titleBaseline": "middle", "titleAngle": -90}},
    "stroke": {"field": "g", "type": "nominal", "scale": {"domain": ["ndhD1","ndhD2","ndhD3","ndhD4","ndhD5","ndhD6","ndhF1","ndhF3","ndhF4"], "range": ["#ec1c24","#1c4fe8","#7a0f0f","#2e9e2e","#5ed2ea","#f0603c","#86d43a","#f0603c","#5ed2ea"]},
     "legend": {"title": null, "orient": "none", "legendX": 140.6, "legendY": 28.4, "rowPadding": 5.1,
      "symbolType": {"expr": "LP[Fm[indexof(Fg, datum.value)]]"},
      "symbolFillColor": {"expr": "Fo[indexof(Fg, datum.value)] ? 'white' : Fc[indexof(Fg, datum.value)]"},
      "labelColor": {"expr": "Fc[indexof(Fg, datum.value)]"}}}
   }},
  {"mark": {"type": "point", "size": 40, "strokeWidth": 1, "opacity": 1},
   "encoding": {
    "x": {"field": "t", "type": "quantitative", "scale": {"type": "log", "domain": [0.06, 20], "nice": false}},
    "y": {"field": "v", "type": "quantitative", "scale": {"domain": [0,1200], "nice": false, "zero": false}, "axis": {"orient": "right", "values": [0,50,100,150,200,250,300,350,400,450,500,550,600,650,700,750,800,850,900,950,1000,1050,1100,1150,1200], "labels": false, "tickSize": {"condition": {"test": "datum.value % 200 == 0", "value": -8}, "value": -4}, "title": null}},
    "stroke": {"field": "g", "type": "nominal", "scale": {"domain": ["ndhD1","ndhD2","ndhD3","ndhD4","ndhD5","ndhD6","ndhF1","ndhF3","ndhF4"], "range": ["#ec1c24","#1c4fe8","#7a0f0f","#2e9e2e","#5ed2ea","#f0603c","#86d43a","#f0603c","#5ed2ea"]}, "legend": null},
    "fill": {"field": "g", "type": "nominal", "scale": {"domain": ["ndhF4","ndhF3","ndhF1","ndhD6","ndhD5","ndhD4","ndhD3","ndhD2","ndhD1"], "range": ["white","white","white","white","#5ed2ea","#2e9e2e","#7a0f0f","#1c4fe8","#ec1c24"]}, "legend": null},
    "shape": {"field": "g", "type": "nominal", "scale": {"domain": ["ndhF4","ndhF3","ndhF1","ndhD6","ndhD5","ndhD4","ndhD3","ndhD2","ndhD1"], "range": ["triangle-up","diamond","circle","M-1,-1H1V1H-1ZM-1,-1L1,1M1,-1L-1,1","triangle-down","triangle-up","diamond","square","circle"]}, "legend": null}
   }},
  {"mark": {"type": "text", "text": "F", "font": "Liberation Sans", "fontWeight": "bold", "fontSize": 16, "align": "left", "baseline": "middle"}, "encoding": {"x": {"datum": 0.088, "type": "quantitative", "scale": {"type": "log", "domain": [0.06, 20], "nice": false}}, "y": {"datum": 1100, "type": "quantitative", "scale": {"domain": [0,1200], "nice": false, "zero": false}, "axis": null}}},
  {"mark": {"type": "rule", "stroke": "#222", "strokeWidth": 1.2}, "encoding": {"x": {"datum": 0.0876, "type": "quantitative", "scale": {"type": "log", "domain": [0.06, 20], "nice": false}}, "y": {"datum": -34, "type": "quantitative", "scale": {"domain": [0,1200], "nice": false, "zero": false}, "axis": null}, "y2": {"datum": 34}}},
  {"mark": {"type": "rule", "stroke": "#222", "strokeWidth": 1.2}, "encoding": {"x": {"datum": 0.0995, "type": "quantitative", "scale": {"type": "log", "domain": [0.06, 20], "nice": false}}, "y": {"datum": -34, "type": "quantitative", "scale": {"domain": [0,1200], "nice": false, "zero": false}, "axis": null}, "y2": {"datum": 34}}},
  {"mark": {"type": "rule", "stroke": "#222", "strokeWidth": 1.2}, "encoding": {"x": {"datum": 0.0876, "type": "quantitative", "scale": {"type": "log", "domain": [0.06, 20], "nice": false}}, "y": {"datum": 1163, "type": "quantitative", "scale": {"domain": [0,1200], "nice": false, "zero": false}, "axis": null}, "y2": {"datum": 1241}}},
  {"mark": {"type": "rule", "stroke": "#222", "strokeWidth": 1.2}, "encoding": {"x": {"datum": 0.0995, "type": "quantitative", "scale": {"type": "log", "domain": [0.06, 20], "nice": false}}, "y": {"datum": 1163, "type": "quantitative", "scale": {"domain": [0,1200], "nice": false, "zero": false}, "axis": null}, "y2": {"datum": 1241}}}
 ],
 "resolve": {"axis": {"y": "independent"}}
}
]
}
